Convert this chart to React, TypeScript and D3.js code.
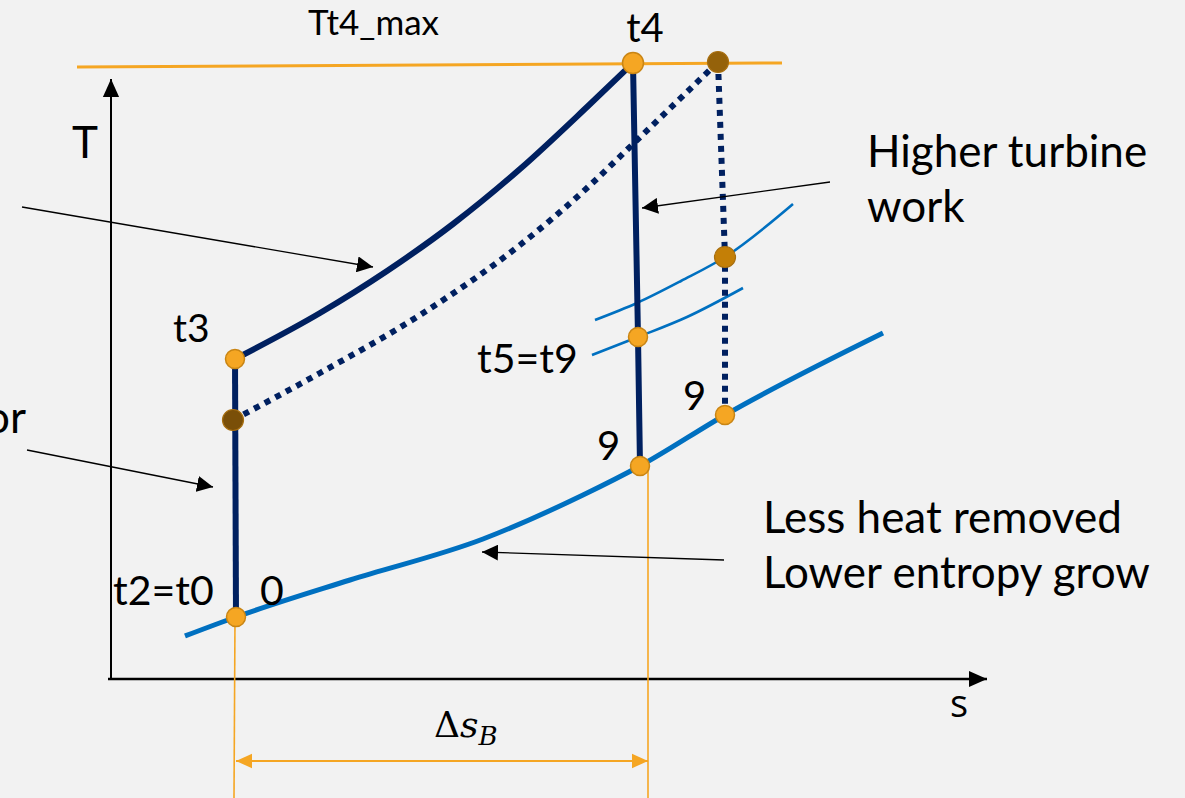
// T-s diagram: higher turbine work with Tt4 limited, schematic drawn with d3.

import * as d3 from "d3";

// entropy / temperature in drawing units (s to the right, T upwards)
const tmaxLine = [[-34, 612], [671, 616]];
const compressor = [[125, 62], [124, 320]];
const combustion = [[124, 320], [209, 366], [276, 408], [342, 455], [409, 510], [476, 572], [522, 616]];
const combustionAlt = [[122, 259], [209, 306], [309, 364], [409, 434], [476, 491], [522, 535], [607, 617]];
const turbine = [[522, 616], [527, 342], [529, 213]];
const turbineAlt = [[607, 617], [614, 422], [614, 264]];
const exhaust = [[74, 43], [125, 62], [239, 99], [372, 140], [472, 184], [529, 213], [614, 264], [772, 346]];
const isobarHigh = [[484, 359], [526, 376], [570, 398], [614, 422], [682, 475]];
const isobarLow = [[481, 324], [527, 342], [576, 362], [632, 391]];

const statePoints = [[125, 62], [124, 320], [522, 616], [527, 342], [529, 213], [614, 264]];
const altPoints = [
  { p: [122, 259], fill: "#7a4f08" },
  { p: [607, 617], fill: "#95620a" },
  { p: [614, 422], fill: "#c47f06" },
];

const stateLabels = [
  { text: "Tt4_max", p: [197, 644], size: 35, anchor: "start" },
  { text: "t4", p: [534, 637], size: 40, anchor: "middle" },
  { text: "t3", p: [62, 337], size: 39, anchor: "start" },
  { text: "t2=t0", p: [2, 74], size: 41, anchor: "start" },
  { text: "0", p: [149, 74], size: 41, anchor: "start" },
  { text: "t5=t9", p: [366, 306], size: 41, anchor: "start" },
  { text: "9", p: [486, 219], size: 40, anchor: "start" },
  { text: "9", p: [572, 269], size: 40, anchor: "start" },
];

const notes = [
  { lines: ["Compressor"], p: [-85, 246], anchor: "end" },
  { lines: ["Higher turbine", "work"], p: [756, 512], anchor: "start" },
  { lines: ["Less heat removed", "Lower entropy grow"], p: [652, 146], anchor: "start" },
];

// annotation arrows: [from, to]
const pointers = [
  [[-89, 472], [262, 412]],
  [[719, 497], [531, 471]],
  [[613, 119], [371, 127]],
  [[-84, 229], [102, 192]],
];

const deltaS = [125, 533];

export default function App() {
  const width = 1185;
  const height = 798;

  const x = d3.scaleLinear([0, 876], [111, 987]);
  const y = d3.scaleLinear([0, 600], [679, 79]);

  const straight = d3.line((d) => x(d[0]), (d) => y(d[1]));
  const smooth = d3.line((d) => x(d[0]), (d) => y(d[1])).curve(d3.curveMonotoneX);

  const navy = "#002060";
  const blue = "#0070c0";
  const orange = "#f5a623";
  const font = "Lato, 'Open Sans', sans-serif";

  const arrowY = 761;

  return (
    <svg
      width={width}
      height={height}
      style={{ position: "absolute", left: 0, top: 0, background: "#f2f2f2" }}
    >
      <defs>
        <marker id="blk" viewBox="0 0 10 10" refX="10" refY="5" markerWidth="16" markerHeight="16" markerUnits="userSpaceOnUse" orient="auto">
          <path d="M0,0 L10,5 L0,10 z" fill="#000" />
        </marker>
        <marker id="axis" viewBox="0 0 10 10" refX="10" refY="5" markerWidth="18" markerHeight="18" markerUnits="userSpaceOnUse" orient="auto">
          <path d="M0,0.5 L10,5 L0,9.5 z" fill="#000" />
        </marker>
        <marker id="org" viewBox="0 0 10 10" refX="10" refY="5" markerWidth="16" markerHeight="16" markerUnits="userSpaceOnUse" orient="auto-start-reverse">
          <path d="M0,0.5 L10,5 L0,9.5 z" fill={orange} />
        </marker>
      </defs>

      {/* axes */}
      <line x1={x(0)} y1={y(-1)} x2={x(0)} y2={y(600)} stroke="#000" strokeWidth={2} markerEnd="url(#axis)" />
      <line x1={x(-3)} y1={y(0)} x2={x(876)} y2={y(0)} stroke="#000" strokeWidth={2.4} markerEnd="url(#axis)" />
      <text x={72} y={158} fontFamily={font} fontSize={44}>T</text>
      <text x={950} y={717} fontFamily="'Open Sans', sans-serif" fontSize={38}>s</text>

      {/* Tt4 max */}
      <path d={straight(tmaxLine)} stroke={orange} strokeWidth={3} fill="none" />

      {/* delta s */}
      {deltaS.map((s, i) => (
        <line key={i} x1={x(s) + (i ? 4 : -1)} y1={i ? y(213) : y(62)} x2={x(s) + (i ? 4 : -2)} y2={height} stroke={orange} strokeWidth={1.6} />
      ))}
      <line x1={x(deltaS[0])} y1={arrowY} x2={x(deltaS[1]) + 4} y2={arrowY} stroke={orange} strokeWidth={2.2} markerStart="url(#org)" markerEnd="url(#org)" />
      <text x={434} y={737} fontFamily="'DejaVu Serif', serif" fontSize={36}>
        Δ<tspan fontStyle="italic">s</tspan>
        <tspan fontStyle="italic" fontSize={26} dy={8}>B</tspan>
      </text>

      {/* cycle */}
      <path d={smooth(exhaust)} stroke={blue} strokeWidth={5} fill="none" />
      <path d={smooth(isobarHigh)} stroke={blue} strokeWidth={2.6} fill="none" />
      <path d={smooth(isobarLow)} stroke={blue} strokeWidth={2.6} fill="none" />
      <path d={straight(compressor)} stroke={navy} strokeWidth={6} fill="none" />
      <path d={smooth(combustion)} stroke={navy} strokeWidth={6} fill="none" />
      <path d={smooth(combustionAlt)} stroke={navy} strokeWidth={6} strokeDasharray="6 6" fill="none" />
      <path d={straight(turbine)} stroke={navy} strokeWidth={6} fill="none" />
      <path d={straight(turbineAlt)} stroke={navy} strokeWidth={6} strokeDasharray="6 6" fill="none" />

      {/* pointers */}
      {pointers.map((d, i) => (
        <line key={i} x1={x(d[0][0])} y1={y(d[0][1])} x2={x(d[1][0])} y2={y(d[1][1])} stroke="#000" strokeWidth={1.3} markerEnd="url(#blk)" />
      ))}

      {/* points */}
      {statePoints.map((d, i) => (
        <circle key={i} cx={x(d[0])} cy={y(d[1])} r={i === 2 ? 10.5 : 9.5} fill={orange} stroke="#c98514" strokeWidth={1.5} />
      ))}
      {altPoints.map((d, i) => (
        <circle key={i} cx={x(d.p[0])} cy={y(d.p[1])} r={10.5} fill={d.fill} stroke="#a86f10" strokeWidth={1.2} />
      ))}

      {/* labels */}
      {stateLabels.map((d, i) => (
        <text key={i} x={x(d.p[0])} y={y(d.p[1])} fontFamily={font} fontSize={d.size} textAnchor={d.anchor}>
          {d.text}
        </text>
      ))}
      {notes.map((n, i) => (
        <text key={i} x={x(n.p[0])} y={y(n.p[1])} fontFamily={font} fontSize={44} textAnchor={n.anchor}>
          {n.lines.map((l, j) => (
            <tspan key={j} x={x(n.p[0])} dy={j ? 55 : 0}>{l}</tspan>
          ))}
        </text>
      ))}
    </svg>
  );
}
